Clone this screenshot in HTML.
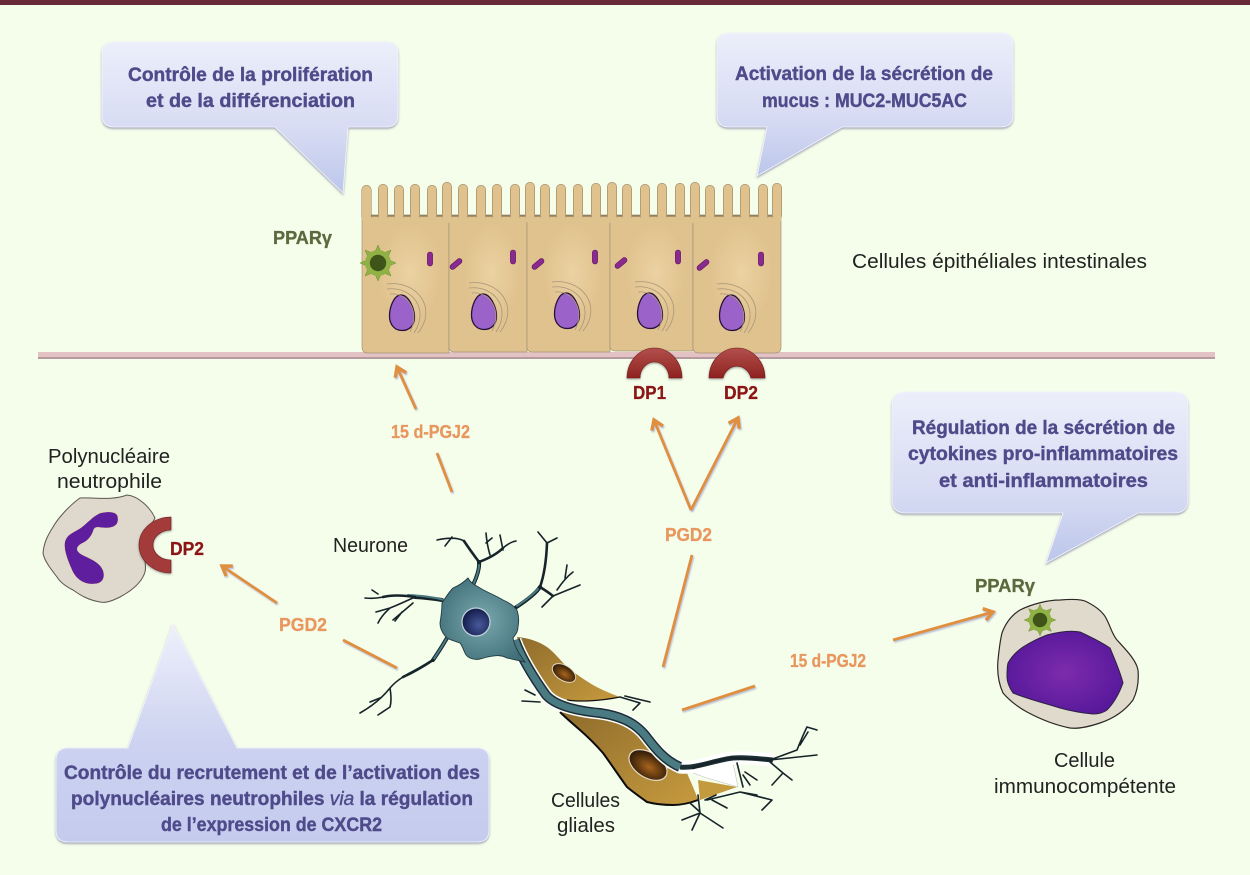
<!DOCTYPE html>
<html><head><meta charset="utf-8"><style>
html,body{margin:0;padding:0;background:#f5fdeb}
svg{display:block}
text{font-family:"Liberation Sans",sans-serif}
.b{font-weight:bold;font-size:19px;fill:#4f4b8b;stroke:#4f4b8b;stroke-width:.4}
.o{font-weight:bold;font-size:18px;fill:#e8975f;stroke:#e8975f;stroke-width:.3}
.r{font-weight:bold;font-size:18px;fill:#8c1515;stroke:#8c1515;stroke-width:.3}
.g{font-weight:bold;font-size:18px;fill:#5a6a3e;stroke:#5a6a3e;stroke-width:.3}
.t{font-size:20px;fill:#222}
.ar{fill:none;stroke:#df8f3c;stroke-width:2.8;filter:url(#as)}
.den{fill:none;stroke:#16242a;stroke-linecap:round;stroke-linejoin:round}
.nuc{fill:#9b63c9;stroke:#26103c;stroke-width:1.3}
.gol{fill:none;stroke:#a8967a;stroke-width:.8}
.mit{fill:#8b2a8e;stroke:#5a1560;stroke-width:.6}
</style></head><body>
<svg width="1250" height="875" viewBox="0 0 1250 875" xmlns="http://www.w3.org/2000/svg">
<defs>
<linearGradient id="bub" x1="0" y1="0" x2="0" y2="1"><stop offset="0" stop-color="#eceefa"/><stop offset=".6" stop-color="#d6dbf3"/><stop offset="1" stop-color="#bcc6ea"/></linearGradient>
<linearGradient id="bub4" x1="0" y1="0" x2="0" y2="1"><stop offset="0" stop-color="#eef0fb"/><stop offset=".55" stop-color="#ccd2f0"/><stop offset="1" stop-color="#c4cbee"/></linearGradient>
<radialGradient id="cell" cx=".55" cy=".42" r=".6"><stop offset="0" stop-color="#ebd2a2"/><stop offset=".6" stop-color="#e0c28e"/><stop offset="1" stop-color="#e0c28e"/></radialGradient>
<linearGradient id="rec" x1="0" y1="0" x2="0" y2="1"><stop offset="0" stop-color="#b2504c"/><stop offset="1" stop-color="#8e2220"/></linearGradient>
<radialGradient id="soma" cx=".5" cy=".5" r=".6"><stop offset="0" stop-color="#7aa8ae"/><stop offset="1" stop-color="#3f6e78"/></radialGradient>
<radialGradient id="sn" cx=".6" cy=".6" r=".6"><stop offset="0" stop-color="#47599a"/><stop offset="1" stop-color="#141d4c"/></radialGradient>
<radialGradient id="gn" cx=".55" cy=".55" r=".55"><stop offset="0" stop-color="#a8641c"/><stop offset="1" stop-color="#2e1a08"/></radialGradient>
<linearGradient id="gl" x1="0" y1="0" x2="1" y2="1"><stop offset="0" stop-color="#8f6c2c"/><stop offset="1" stop-color="#c69a3e"/></linearGradient>
<radialGradient id="imm" cx=".5" cy=".5" r=".6"><stop offset="0" stop-color="#7c2cab"/><stop offset="1" stop-color="#54169a"/></radialGradient>
<filter id="sh" x="-10%" y="-10%" width="120%" height="120%"><feDropShadow dx="0" dy="1.5" stdDeviation="1" flood-color="#8b8ea6" flood-opacity=".8"/></filter>
<filter id="as" x="-30%" y="-30%" width="160%" height="160%"><feDropShadow dx="1" dy="1.5" stdDeviation=".8" flood-color="#8f9ac8" flood-opacity=".6"/></filter>
<filter id="rs" x="-20%" y="-20%" width="140%" height="140%"><feDropShadow dx="0" dy="1" stdDeviation="1" flood-color="#555" flood-opacity=".6"/></filter>
<marker id="ah" markerUnits="userSpaceOnUse" markerWidth="24" markerHeight="24" refX="20" refY="12" orient="auto"><path d="M11,6 L20,12 L11,18" fill="none" stroke="#df8f3c" stroke-width="3.4"/></marker>
<g id="star"><polygon points="18,0 9.2,3.8 13,13 3.8,9.2 0,18 -3.8,9.2 -13,13 -9.2,3.8 -18,0 -9.2,-3.8 -13,-13 -3.8,-9.2 0,-18 3.8,-9.2 13,-13 9.2,-3.8" fill="#8fb145" stroke="#6f8f33" stroke-width=".5"/><circle r="13" fill="#8fb145"/><circle r="8.2" fill="#3f5419"/></g>
<g id="egg"><path class="nuc" d="M-1,-18 C7,-18 12.5,-4 12.5,4 C12.5,13 7,17.5 0,17.5 C-7,17.5 -12.5,12 -12.5,3 C-12.5,-6 -8,-18 -1,-18Z"/><path class="gol" d="M-15,-29 C15,-33 36,-5 16,20M-15,-24 C10,-27 28,-4 12,20M-12,-19 C5,-21 19,-2 8,19"/></g>
<rect id="mv" x="-2.6" y="-7" width="5.2" height="14" rx="2.6" class="mit"/>
</defs>

<rect width="1250" height="875" fill="#f5fdeb"/>
<rect width="1250" height="5" fill="#6a2b39"/>

<!-- membrane -->
<rect x="38" y="352" width="1177" height="5" fill="#e3c2c4"/>
<rect x="38" y="357" width="1177" height="2" fill="#b59aa0"/>

<!-- epithelial cells -->
<g stroke="#a39478" stroke-width=".7">
<path d="M362,215H449V353H368Q362,353 362,347Z" fill="url(#cell)"/>
<path d="M449,215H527V352H455Q449,352 449,347Z" fill="url(#cell)"/>
<path d="M527,215H610V352H533Q527,352 527,347Z" fill="url(#cell)"/>
<path d="M610,215H693V351H616Q610,351 610,346Z" fill="url(#cell)"/>
<path d="M693,215H781V347Q781,353 775,353H699Q693,353 693,347Z" fill="url(#cell)"/>
</g>
<path d="M366.5,216V190M383,216V189M399,216V190M415,216V189M432,216V190M447,216V187M463,216V189M481,216V190M497,216V189M515,216V189M530,216V187M545,216V189M561,216V189M578,216V189M596,216V188M612,216V187M627,216V189M645,216V189M662,216V188M680,216V188M695,216V187M710,216V190M728,216V189M745,216V189M763,216V189M777,216V188" stroke="#8d7a58" stroke-width="10" stroke-linecap="round" fill="none"/>
<path d="M362,216H781" stroke="#6f6048" stroke-width="1"/>
<path d="M366.5,219V190M383,219V189M399,219V190M415,219V189M432,219V190M447,219V187M463,219V189M481,219V190M497,219V189M515,219V189M530,219V187M545,219V189M561,219V189M578,219V189M596,219V188M612,219V187M627,219V189M645,219V189M662,219V188M680,219V188M695,219V187M710,219V190M728,219V189M745,219V189M763,219V189M777,219V188" stroke="#e0c28e" stroke-width="9" stroke-linecap="round" fill="none"/>
<use href="#egg" x="402" y="313"/><use href="#egg" x="484" y="312"/><use href="#egg" x="567" y="311"/><use href="#egg" x="650" y="311"/><use href="#egg" x="732" y="313"/>
<use href="#mv" x="430" y="259"/><use href="#mv" x="513" y="257"/><use href="#mv" x="595" y="257"/><use href="#mv" x="678" y="257"/><use href="#mv" x="761" y="259"/>
<use href="#mv" transform="translate(456,264) rotate(50)"/><use href="#mv" transform="translate(538,264) rotate(50)"/><use href="#mv" transform="translate(621,263) rotate(50)"/><use href="#mv" transform="translate(703,265) rotate(50)"/>
<use href="#star" x="378" y="263"/>

<!-- receptors -->
<g filter="url(#rs)"><path d="M627,378 A27.5,30 0 0 1 682,378 H669 A14.5,16 0 0 0 640,378 Z" fill="url(#rec)" stroke="#741a1a" stroke-width=".6"/>
<path d="M709,378 A28,30 0 0 1 765,378 H751 A14.5,16 0 0 0 723,378 Z" fill="url(#rec)" stroke="#741a1a" stroke-width=".6"/></g>

<!-- bubbles -->
<g filter="url(#sh)" stroke="#f4f5fd" stroke-width=".8">
<path d="M114,42H386Q398,42 398,54V115Q398,127 386,127H348L343,193L275,127H114Q102,127 102,115V54Q102,42 114,42Z" fill="url(#bub)"/>
<path d="M729,33H1001Q1013,33 1013,45V115Q1013,127 1001,127H842L757,176L767,127H729Q717,127 717,115V45Q717,33 729,33Z" fill="url(#bub)"/>
<path d="M906,392H1174Q1188,392 1188,406V499Q1188,513 1174,513H1138L1046,563L1063,513H906Q892,513 892,499V406Q892,392 906,392Z" fill="url(#bub)"/>
<path d="M68,748H128L173,624L237,748H477Q489,748 489,760V830Q489,842 477,842H68Q56,842 56,830V760Q56,748 68,748Z" fill="url(#bub4)"/>
</g>
<text class="b" x="128" y="81" textLength="245" lengthAdjust="spacingAndGlyphs">Contrôle de la prolifération</text>
<text class="b" x="146" y="107" textLength="209" lengthAdjust="spacingAndGlyphs">et de la différenciation</text>
<text class="b" x="735" y="80" textLength="258" lengthAdjust="spacingAndGlyphs">Activation de la sécrétion de</text>
<text class="b" x="762" y="107" textLength="205" lengthAdjust="spacingAndGlyphs">mucus : MUC2-MUC5AC</text>
<text class="b" x="912" y="434" textLength="263" lengthAdjust="spacingAndGlyphs">Régulation de la sécrétion de</text>
<text class="b" x="908" y="460" textLength="270" lengthAdjust="spacingAndGlyphs">cytokines pro-inflammatoires</text>
<text class="b" x="939" y="487" textLength="209" lengthAdjust="spacingAndGlyphs">et anti-inflammatoires</text>
<text class="b" x="64" y="779" textLength="416" lengthAdjust="spacingAndGlyphs">Contrôle du recrutement et de l’activation des</text>
<text class="b" x="71" y="805" textLength="402" lengthAdjust="spacingAndGlyphs">polynucléaires neutrophiles <tspan font-style="italic" font-weight="normal">via</tspan> la régulation</text>
<text class="b" x="161" y="831" textLength="221" lengthAdjust="spacingAndGlyphs">de l’expression de CXCR2</text>

<!-- labels -->
<text class="g" x="273" y="244" textLength="59" lengthAdjust="spacingAndGlyphs">PPARγ</text>
<text class="t" x="852" y="268" textLength="295" lengthAdjust="spacingAndGlyphs">Cellules épithéliales intestinales</text>
<text class="r" x="633" y="399" textLength="33" lengthAdjust="spacingAndGlyphs">DP1</text>
<text class="r" x="724" y="399" textLength="34" lengthAdjust="spacingAndGlyphs">DP2</text>
<text class="o" x="391" y="438" textLength="79" lengthAdjust="spacingAndGlyphs">15 d-PGJ2</text>
<text class="o" x="665" y="541" textLength="47" lengthAdjust="spacingAndGlyphs">PGD2</text>
<text class="o" x="279" y="631" textLength="48" lengthAdjust="spacingAndGlyphs">PGD2</text>
<text class="o" x="790" y="667" textLength="76" lengthAdjust="spacingAndGlyphs">15 d-PGJ2</text>
<text class="t" x="48" y="463" textLength="122" lengthAdjust="spacingAndGlyphs">Polynucléaire</text>
<text class="t" x="57" y="488" textLength="105" lengthAdjust="spacingAndGlyphs">neutrophile</text>
<text class="r" x="170" y="555" textLength="34" lengthAdjust="spacingAndGlyphs">DP2</text>
<text class="t" x="333" y="552" textLength="75" lengthAdjust="spacingAndGlyphs">Neurone</text>
<text class="t" x="551" y="807" textLength="69" lengthAdjust="spacingAndGlyphs">Cellules</text>
<text class="t" x="557" y="832" textLength="58" lengthAdjust="spacingAndGlyphs">gliales</text>
<text class="t" x="1054" y="767" textLength="61" lengthAdjust="spacingAndGlyphs">Cellule</text>
<text class="t" x="994" y="793" textLength="182" lengthAdjust="spacingAndGlyphs">immunocompétente</text>
<text class="g" x="975" y="592" textLength="60" lengthAdjust="spacingAndGlyphs">PPARγ</text>

<!-- arrows -->
<path class="ar" d="M452,492L437,453"/>
<path class="ar" d="M416,409L397,367" marker-end="url(#ah)"/>
<path class="ar" d="M691,510L654,420" marker-end="url(#ah)"/>
<path class="ar" d="M691,510L738,418" marker-end="url(#ah)"/>
<path class="ar" d="M692,555L663,667"/>
<path class="ar" d="M682,710L755,686"/>
<path class="ar" d="M893,640L993,612" marker-end="url(#ah)"/>
<path class="ar" d="M343,640L397,668"/>
<path class="ar" d="M277,603L222,566" marker-end="url(#ah)"/>

<!-- neutrophil -->
<path d="M80,498C92,497 112,501 127,495C138,496 150,507 155,518L143,540C143,555 147,565 145,572C142,582 133,590 120,597C110,602 105,603 100,602C88,600 80,595 73,590C65,586 60,582 57,577C50,568 44,560 43,553C44,542 48,535 53,527C58,518 70,505 80,498Z" fill="#dfd8cc" stroke="#5c5650" stroke-width="1"/>
<path d="M100,513C108,511 118,511 118,518C119,526 112,528 106,528C100,528 96,526 94,529C92,536 88,541 81,544C76,547 76,551 81,554C88,558 99,561 103,570C106,578 102,584 94,584C84,585 75,579 71,568C67,559 63,548 65,541C67,535 72,533 77,530C83,527 86,523 90,520C93,517 96,515 100,513Z" fill="#5f1e9e" stroke="#efe39a" stroke-width=".5"/>
<path d="M171,517 A32,28 0 0 0 171,573 V560 A18,15 0 0 1 171,530 Z" fill="#a33b3a" stroke="#6f1a1a" stroke-width=".6" filter="url(#rs)"/>

<!-- immune cell -->
<path d="M1002,633C1006,622 1012,615 1020,610C1032,604 1048,600 1060,600C1072,599 1082,599 1087,602C1097,607 1104,613 1107,620C1111,628 1112,634 1117,640C1127,651 1136,660 1138,670C1139,681 1137,692 1133,700C1124,712 1112,719 1100,723C1088,727 1078,729 1070,728C1055,725 1040,719 1027,712C1018,707 1009,700 1003,693C998,682 997,671 998,660C999,650 1000,641 1002,633Z" fill="#e0dacd" stroke="#2b2825" stroke-width="1.2"/>
<path d="M1008,663C1012,656 1017,651 1023,647C1031,642 1039,638 1047,635C1058,632 1070,630 1080,632C1091,637 1101,642 1110,648C1115,660 1120,671 1123,683C1119,694 1114,703 1107,710C1103,713 1098,714 1093,714C1082,713 1071,711 1060,708C1044,703 1028,699 1013,693C1009,687 1007,682 1007,677C1007,672 1007,667 1008,663Z" fill="url(#imm)" stroke="#2c2240" stroke-width="1"/>
<use href="#star" transform="translate(1040,620) scale(.88)"/>

<!-- glia -->
<path d="M517,637C528,638 538,641 547,647C555,653 560,660 567,667C577,675 585,680 593,685C602,690 612,694 620,697C614,699 608,700 603,700C591,701 579,702 567,700C561,698 557,696 553,693C547,686 542,678 537,670C532,663 527,656 523,650C520,645 518,641 517,637Z" fill="url(#gl)"/>
<path d="M567,700C580,702 600,701 620,697" stroke="#111" stroke-width="1.2" fill="none"/>
<ellipse cx="564" cy="673" rx="13" ry="7.5" transform="rotate(32 564 673)" fill="url(#gn)" stroke="#e3d8c0" stroke-width="1"/>
<path d="M693,773L733,763L738,787L707,778Z" fill="#fff" stroke="#bbb" stroke-width=".5"/>
<path d="M698,780L737,787L700,800Z" fill="#c49a3e"/>
<path d="M560,712C577,714 592,716 607,718C617,720 626,723 633,727C640,733 645,740 650,747C656,755 661,762 667,768C674,771 681,772 687,773C689,778 691,782 693,787C695,792 697,796 698,800C690,803 682,805 673,805C664,805 655,804 647,802C640,797 633,792 627,787C619,776 611,764 603,753C596,745 588,737 580,730C573,724 566,718 560,712Z" fill="url(#gl)"/>
<path d="M560,712C566,718 573,724 580,730C588,737 596,745 603,753C611,764 619,776 627,787C633,792 640,797 647,802C655,804 664,805 673,805C682,805 690,803 698,800" fill="none" stroke="#0c0c0c" stroke-width="2"/>
<ellipse cx="648" cy="765" rx="21" ry="12.5" transform="rotate(32 648 765)" fill="url(#gn)" stroke="#e3d8c0" stroke-width="1.2"/>

<!-- neuron axon -->
<path d="M515,640C520,655 533,677 546,695C553,703 568,710 600,713C620,716 634,722 645,735C655,748 664,760 680,767C695,769 715,760 733,758C748,757 760,759 773,760" fill="none" stroke="#fff" stroke-width="13"/>
<path d="M515,640C520,655 533,677 546,695C553,703 568,710 600,713C620,716 634,722 645,735C655,748 664,760 680,767" fill="none" stroke="#1c2f34" stroke-width="10"/>
<path d="M680,767C695,769 715,760 733,758C748,757 760,759 773,760" fill="none" stroke="#1c2f34" stroke-width="5"/>
<path d="M515,640C520,655 533,677 546,695C553,703 568,710 600,713C620,716 634,722 645,735C655,748 664,760 680,767" fill="none" stroke="#4a7a82" stroke-width="7"/>

<!-- dendrites -->
<g class="den">
<g stroke-width="4"><path d="M473,585Q480,570 479,562"/><path d="M515,608Q535,595 540,587"/><path d="M442,600Q430,598 415,597"/><path d="M447,638Q440,650 433,660"/></g>
<g stroke="#4a7a82" stroke-width="2"><path d="M473,585Q479,572 479,565"/><path d="M517,606Q532,596 538,589"/><path d="M444,600Q430,596 408,595"/><path d="M447,638Q440,650 433,660Q420,668 408,674"/></g>
<g stroke-width="2.6"><path d="M479,562Q470,550 464,541"/><path d="M479,562Q495,556 503,548"/><path d="M540,587Q546,570 547,543"/><path d="M540,587Q548,592 553,596"/><path d="M415,597Q395,594 383,597"/><path d="M433,660Q418,670 403,677"/><path d="M693,768Q715,760 733,758L770,760"/></g>
<g stroke-width="1.6"><path d="M464,541Q455,536 437,540M452,537L445,546"/><path d="M503,548Q510,542 516,541M503,550L500,535M490,555Q487,545 486,533M486,543L492,538"/><path d="M547,543L538,532M547,543L557,538"/><path d="M553,596L580,585M553,596L542,607M557,590Q565,578 573,572M565,578L567,565"/><path d="M383,597Q375,599 365,598M378,594L372,590M415,597Q400,604 390,608Q382,615 378,623M390,608L376,612M413,603L393,620M402,612L395,621"/><path d="M403,677Q395,682 390,688Q378,703 360,713M390,688Q392,700 390,707L378,715M380,698L370,702"/><path d="M770,760L797,750Q803,735 807,727L817,730M800,745L808,732M770,760L817,755M770,762L783,773L772,785M783,773L792,780"/><path d="M737,763L743,787M745,772L757,780M743,775L750,785"/><path d="M698,795L700,813L682,820M700,813L692,830M700,813L723,828M712,800L727,808M705,800L716,795M690,803L700,812"/><path d="M707,800L740,792L772,800L762,810M740,792L757,795"/><path d="M620,697L640,703L633,710M625,696L650,702"/><path d="M540,702L522,701M535,695L525,690"/></g>
</g>

<!-- soma -->
<path d="M468,578C472,585 476,585 480,588C488,593 495,595 503,600C510,603 514,606 517,610C519,616 519,622 518,627C518,632 515,635 513,638C515,648 520,655 525,662L507,658C500,654 494,656 487,657C481,659 477,660 473,659C469,658 466,656 465,653C463,649 462,645 460,643C455,641 450,640 447,638C443,634 440,629 440,623C441,617 442,610 442,603C446,597 449,592 453,588C458,586 464,582 468,578Z" fill="url(#soma)" stroke="#233b40" stroke-width=".9"/>
<circle cx="476" cy="622" r="14" fill="url(#sn)" stroke="#c3d4d8" stroke-width="1.2"/>
</svg>
</body></html>
